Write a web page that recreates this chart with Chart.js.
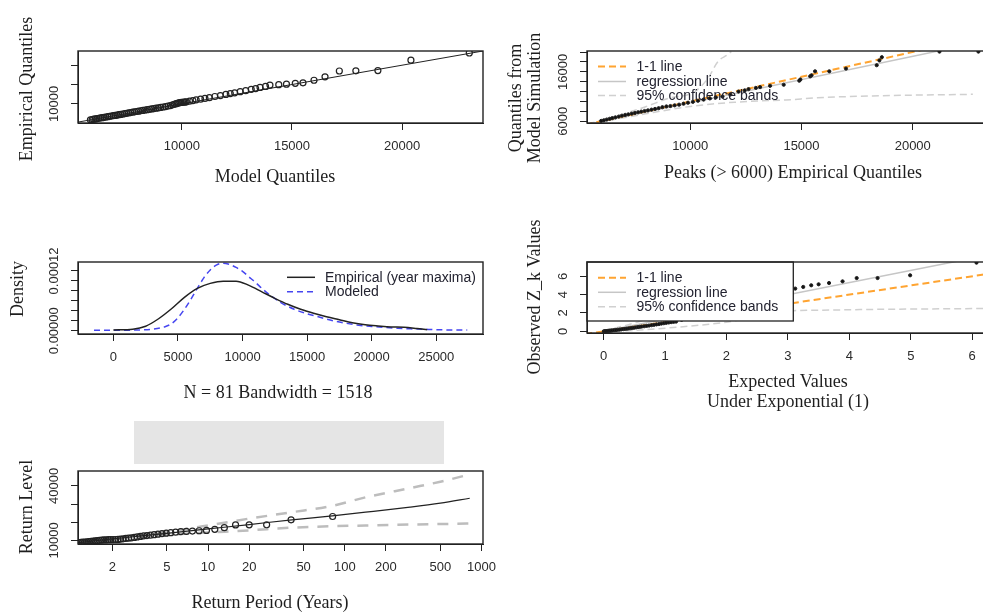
<!DOCTYPE html>
<html lang="en">
<head>
<meta charset="utf-8">
<title>Extreme value diagnostics</title>
<script src="https://cdn.jsdelivr.net/npm/chart.js@4.4.1/dist/chart.umd.min.js"></script>
<style>
  html, body { margin: 0; padding: 0; background: #fff; }
  body { position: relative; width: 983px; height: 612px; overflow: hidden; }
  canvas { position: absolute; left: 0; top: 0; }
  #cover { position: absolute; left: 134px; top: 421px; width: 310px; height: 43px; background: #e5e5e5; }
</style>
</head>
<body>
<div id="cover"></div>
<canvas id="qq" width="1000" height="612"></canvas>
<canvas id="pot" width="1000" height="612"></canvas>
<canvas id="dens" width="1000" height="612"></canvas>
<canvas id="zk" width="1000" height="612"></canvas>
<canvas id="rl" width="1000" height="612"></canvas>
<script>
// year maxima (N = 81) against fitted model quantiles
const qqModel = [5850, 5930, 6000, 6080, 6150, 6230, 6310, 6390, 6470, 6550,
  6640, 6720, 6800, 6890, 6970, 7060, 7140, 7230, 7320, 7410,
  7500, 7590, 7680, 7770, 7860, 7950, 8040, 8140, 8230, 8330,
  8430, 8530, 8630, 8730, 8830, 8940, 9040, 9150, 9260, 9370,
  9480, 9580, 9660, 9740, 9800, 9860, 9920, 9980, 10040, 10100,
  10150, 10200, 10350, 10500, 10650, 10850, 11050, 11250, 11500, 11750,
  12000, 12200, 12400, 12650, 12900, 13150, 13350, 13550, 13800, 14000,
  14400, 14750, 15150, 15500, 16000, 16500, 17150, 17900, 18900, 20400, 23050];
const empQ = [5880, 5950, 6040, 6110, 6190, 6260, 6350, 6430, 6510, 6600,
  6680, 6770, 6840, 6940, 7020, 7110, 7200, 7280, 7380, 7460,
  7560, 7650, 7750, 7840, 7930, 8030, 8120, 8220, 8310, 8410,
  8500, 8600, 8690, 8790, 8880, 8980, 9080, 9190, 9300, 9420,
  9560, 9740, 9900, 10050, 10150, 10230, 10300, 10360, 10410, 10450,
  10480, 10500, 10700, 10850, 11050, 11200, 11400, 11600, 11900, 12150,
  12450, 12650, 12850, 13150, 13400, 13750, 13950, 14250, 14500, 14850,
  14950, 15100, 15300, 15450, 16100, 17000, 18500, 18550, 18600, 21300, 23150];
const qqLineX = [5250, 23700];
const qqLineY = [5250, 23700];
const qqXTicks = [10000, 15000, 20000];
const qqYTicks = [10000, 15000, 20000];

// peaks over 6000: empirical vs simulated quantiles
const potEmp = [6000, 6120, 6250, 6380, 6500, 6640, 6790, 6930, 7080, 7220,
  7370, 7510, 7660, 7800, 7950, 8100, 8260, 8420, 8580, 8750,
  8930, 9110, 9300, 9500, 9700, 9900, 10120, 10350, 10600, 10880,
  11150, 11450, 11800, 12170, 12450, 12620, 12950, 13140, 13590, 14200,
  14900, 14950, 15390, 15450, 15610, 16250, 17000, 18380, 18500, 18610, 21200, 22950];
const potSim = [6080, 6200, 6350, 6500, 6640, 6790, 6950, 7120, 7260, 7400,
  7540, 7680, 7820, 7950, 8080, 8200, 8350, 8500, 8650, 8850,
  9000, 9080, 9220, 9360, 9550, 9750, 9930, 10150, 10380, 10620,
  10820, 11000, 11400, 12000, 12250, 12500, 12750, 12900, 13170, 13380,
  14200, 14450, 15080, 15300, 16100, 16100, 16650, 17330, 18300, 18950, 20080, 20080];
const potOneX = [5300, 20600];
const potOneY = [5300, 20600];
const potRegX = [5400, 21300];
const potRegY = [5390, 20350];
const potUpX = [5400, 6000, 7000, 8000, 9000, 10200, 10800, 11250, 11700, 11850];
const potUpY = [5450, 6200, 7500, 8950, 10600, 12000, 14700, 18100, 19500, 20100];
const potLoX = [5400, 6000, 7000, 8000, 9000, 10000, 11000, 12000, 13000, 14300, 15700, 18500, 22700];
const potLoY = [5300, 5850, 6700, 7500, 8300, 9000, 9500, 9850, 10100, 10300, 10750, 11150, 11450];
const potXTicks = [10000, 15000, 20000];
const potYTicks = [6000, 8000, 10000, 12000, 14000, 16000, 18000, 20000];

// kernel density of year maxima and the fitted model density
const densEmpX = [0, 1500, 2500, 3500, 4500, 5500, 6500, 7500, 8500, 9500,
  10500, 11500, 12500, 13500, 14500, 15500, 16500, 17500, 18500, 19500,
  20500, 21500, 22500, 23500, 24300];
const densEmp = [0.0000015, 0.000003, 0.000009, 0.000024, 0.000044, 0.000067, 0.000085, 0.000095, 0.0000995, 0.0000995,
  0.000091, 0.000078, 0.000065, 0.000053, 0.000043, 0.000035, 0.000028, 0.000022, 0.000016, 0.000012,
  0.0000095, 0.0000075, 0.000007, 0.0000045, 0.000002];
const densModX = [-1500, 0, 2000, 3000, 4000, 4500, 5000, 5500, 6000, 6500,
  7000, 7500, 8000, 8500, 9000, 9500, 10000, 10500, 11000, 11500,
  12000, 13000, 14000, 15000, 16000, 17000, 18000, 19000, 20000, 21000,
  22000, 23000, 24000, 25000, 27400];
const densMod = [0.000001, 0.000001, 0.0000015, 0.000003, 0.000008, 0.000014, 0.000026, 0.000043, 0.000063, 0.000085,
  0.000106, 0.000122, 0.000132, 0.0001355, 0.000133, 0.000127, 0.000119, 0.000108, 0.000097, 0.000085,
  0.000074, 0.000056, 0.000043, 0.000034, 0.000027, 0.00002, 0.000015, 0.000011, 0.0000085, 0.0000065,
  0.000005, 0.0000038, 0.000003, 0.000002, 0.0000012];
const densXTicks = [0, 5000, 10000, 15000, 20000, 25000];
const densYTicks = [0, 0.00002, 0.00004, 0.00006, 0.00008, 0.0001, 0.00012];

// Z_k values against exponential(1) expectations
const zkExp = [0.004, 0.02, 0.04, 0.06, 0.08, 0.1, 0.12, 0.14, 0.17, 0.2,
  0.23, 0.26, 0.29, 0.32, 0.35, 0.38, 0.41, 0.44, 0.47, 0.5,
  0.53, 0.56, 0.59, 0.62, 0.66, 0.7, 0.74, 0.78, 0.82, 0.86,
  0.9, 0.94, 0.98, 1.02, 1.06, 1.1, 1.14, 1.18, 1.27, 1.4,
  1.55, 1.7, 1.85, 2.0, 2.15, 2.3, 2.45, 2.6, 2.75, 2.88,
  3.01, 3.12, 3.25, 3.38, 3.5, 3.67, 3.89, 4.12, 4.46, 4.99, 6.07];
const zkObs = [0, 0.01, 0.02, 0.04, 0.05, 0.07, 0.08, 0.1, 0.12, 0.14,
  0.17, 0.19, 0.22, 0.24, 0.27, 0.29, 0.32, 0.35, 0.37, 0.4,
  0.43, 0.46, 0.49, 0.52, 0.55, 0.59, 0.63, 0.67, 0.71, 0.75,
  0.79, 0.84, 0.88, 0.92, 0.96, 1.0, 1.03, 1.06, 1.25, 1.55,
  1.9, 2.2, 2.6, 2.95, 3.3, 3.6, 3.9, 4.15, 4.35, 4.5,
  4.58, 4.66, 4.84, 5.02, 5.13, 5.27, 5.45, 5.81, 5.81, 6.11, 7.49];
const zkOneX = [-0.3, 6.4];
const zkOneY = [-0.3, 6.4];
const zkRegX = [0, 6.4];
const zkRegY = [0, 8.5];
const zkUpX = [0, 0.5, 1.0, 1.5, 2.0, 2.5];
const zkUpY = [0.05, 0.9, 2.0, 3.6, 5.8, 8.2];
const zkLoX = [0, 0.6, 1.2, 2.0, 2.6, 3.1, 3.5, 4.5, 5.5, 6.4];
const zkLoY = [-0.05, 0.15, 0.45, 1.0, 1.7, 2.25, 2.3, 2.4, 2.45, 2.5];
const zkXTicks = [0, 1, 2, 3, 4, 5, 6];
const zkYTicks = [0, 2, 4, 6];

// return levels: year maxima at their return periods, fitted curve and 95% bands
const rpPeriod = [0.227, 0.269, 0.302, 0.331, 0.358, 0.382, 0.406, 0.43, 0.453, 0.475,
  0.498, 0.52, 0.543, 0.566, 0.589, 0.612, 0.636, 0.66, 0.684, 0.709,
  0.734, 0.76, 0.787, 0.814, 0.842, 0.871, 0.9, 0.931, 0.962, 0.995,
  1.028, 1.063, 1.099, 1.136, 1.175, 1.215, 1.257, 1.3, 1.346, 1.393,
  1.443, 1.495, 1.549, 1.606, 1.667, 1.73, 1.797, 1.867, 1.942, 2.021,
  2.106, 2.196, 2.291, 2.394, 2.504, 2.622, 2.75, 2.888, 3.038, 3.201,
  3.38, 3.577, 3.794, 4.035, 4.304, 4.607, 4.95, 5.342, 5.793, 6.32,
  6.943, 7.689, 8.601, 9.742, 11.21, 13.16, 15.9, 20.0, 26.83, 40.5, 81.5];
const rlT = [1.12, 1.5, 2, 3, 5, 10, 20, 41, 81, 142, 300, 500, 820];
const rlFit = [8700, 9800, 10800, 12200, 13900, 16300, 18700, 21300, 23500, 25500, 28300, 30500, 33200];
const rlUpper = [8900, 10000, 11100, 12700, 14700, 18200, 22000, 25500, 29000, 33700, 38800, 42300, 46300];
const rlLower = [8500, 9600, 10400, 11700, 13000, 14300, 15500, 17000, 17800, 18200, 18700, 19000, 19300];
const rlXTicks = [2, 5, 10, 20, 50, 100, 200, 500, 1000];
const rlYTicks = [10000, 20000, 30000, 40000];

const W = 1000, H = 612;
const INK = '#222';
const LABEL = '#2a2a2a';
const SANS = '"Liberation Sans", Arial, sans-serif';
const SERIF = '"Liberation Serif", "Times New Roman", serif';
const ORANGE = '#ffa431';
const REG = '#c6c6c6';
const BAND = '#d0d0d0';
const DASH = [7, 4];

const xy = (xs, ys) => xs.map((x, i) => ({ x: x, y: ys[i] }));

function pts(xs, ys, r, filled) {
  return {
    data: xy(xs, ys), pointRadius: r, pointBorderWidth: filled ? 1 : 1.2, pointStyle: 'circle',
    pointBorderColor: INK, pointBackgroundColor: filled ? '#111' : 'rgba(0,0,0,0)', clip: 0
  };
}

function line(xs, ys, color, width, dash, smooth) {
  return {
    data: xy(xs, ys), showLine: true, pointRadius: 0, borderColor: color, borderWidth: width,
    borderDash: dash || [], cubicInterpolationMode: smooth ? 'monotone' : 'default', clip: 0
  };
}

// per-canvas extras: rotated y labels, titles and in-plot legend
const deco = {};

function drawLegend(ctx, lg) {
  ctx.save();
  if (lg.frame) {
    const [l, t, r, b] = lg.frame;
    ctx.fillStyle = '#fff';
    ctx.fillRect(l, t, r - l, b - t);
    ctx.strokeStyle = INK;
    ctx.lineWidth = 1.3;
    ctx.strokeRect(l, t, r - l, b - t);
  }
  ctx.font = '14px ' + SANS;
  ctx.textAlign = 'left';
  ctx.textBaseline = 'middle';
  lg.rows.forEach(row => {
    ctx.strokeStyle = row.color;
    ctx.lineWidth = row.width;
    ctx.setLineDash(row.dash || []);
    ctx.beginPath();
    ctx.moveTo(lg.x0, row.y);
    ctx.lineTo(lg.x1, row.y);
    ctx.stroke();
    ctx.setLineDash([]);
    ctx.fillStyle = '#232330';
    ctx.fillText(row.text, lg.tx, row.y + 0.5);
  });
  ctx.restore();
}

const rPanel = {
  id: 'rPanel',
  afterDatasetsDraw(chart) {
    const d = deco[chart.canvas.id];
    const { ctx, chartArea: a } = chart;
    if (d.legend) drawLegend(ctx, d.legend);
    ctx.save();
    ctx.strokeStyle = INK;
    ctx.lineWidth = 1.4;
    ctx.strokeRect(a.left, a.top, a.right - a.left, a.bottom - a.top);
    ctx.restore();
  },
  afterDraw(chart) {
    const d = deco[chart.canvas.id];
    const { ctx, chartArea: a } = chart;
    const ys = chart.scales.y;
    ctx.save();
    ctx.fillStyle = LABEL;
    ctx.font = '13px ' + SANS;
    ctx.textAlign = 'center';
    ctx.textBaseline = 'middle';
    d.yLabels.forEach(([v, txt]) => {
      ctx.save();
      ctx.translate(a.left - 24, ys.getPixelForValue(v));
      ctx.rotate(-Math.PI / 2);
      ctx.fillText(txt, 0, 0);
      ctx.restore();
    });
    ctx.fillStyle = '#1e1e1e';
    ctx.font = '18px ' + SERIF;
    d.titles.forEach(t => {
      ctx.save();
      ctx.translate(t.x, t.y);
      if (t.rot) ctx.rotate(-Math.PI / 2);
      ctx.fillText(t.text, 0, 0);
      ctx.restore();
    });
    ctx.restore();
  }
};

function panel(id, box, xa, ya, datasets, extra) {
  deco[id] = extra;
  new Chart(document.getElementById(id), {
    type: 'scatter',
    data: { datasets: datasets },
    options: {
      responsive: false,
      animation: false,
      events: [],
      devicePixelRatio: 1,
      layout: { padding: { left: 0, top: box.t, right: W - box.r, bottom: 0 } },
      plugins: { legend: { display: false }, tooltip: { enabled: false } },
      scales: {
        x: {
          type: xa.type || 'linear',
          min: xa.min,
          max: xa.max,
          afterBuildTicks: s => { s.ticks = xa.ticks.map(v => ({ value: v })); },
          afterFit: s => { s.height = H - box.b; s.paddingLeft = 0; s.paddingRight = 0; },
          grid: { drawOnChartArea: false, tickLength: 7, color: INK, lineWidth: 1 },
          border: { color: INK, width: 1 },
          ticks: {
            color: LABEL, font: { family: SANS, size: 13 }, padding: 9,
            maxRotation: 0, minRotation: 0, autoSkip: false, callback: v => String(v)
          }
        },
        y: {
          min: ya.min,
          max: ya.max,
          afterBuildTicks: s => { s.ticks = ya.ticks.map(v => ({ value: v })); },
          afterFit: s => { s.width = box.l; s.paddingTop = 0; s.paddingBottom = 0; },
          grid: { drawOnChartArea: false, tickLength: 7, color: INK, lineWidth: 1 },
          border: { color: INK, width: 1 },
          ticks: { display: false }
        }
      }
    },
    plugins: [rPanel]
  });
}

// top left: QQ plot of year maxima
panel('qq', { l: 78, t: 51, r: 483, b: 123 },
  { min: 5286, max: 23672, ticks: qqXTicks },
  { min: 5050, max: 23670, ticks: qqYTicks },
  [pts(qqModel, empQ, 3, false), line(qqLineX, qqLineY, INK, 1)],
  {
    yLabels: [[10000, '10000']],
    titles: [
      { text: 'Empirical Quantiles', x: 27, y: 89, rot: true },
      { text: 'Model Quantiles', x: 275, y: 177 }
    ]
  });

// top right: peaks over threshold QQ plot
panel('pot', { l: 587, t: 51, r: 990, b: 123 },
  { min: 5362, max: 23471, ticks: potXTicks },
  { min: 5650, max: 20205, ticks: potYTicks },
  [
    pts(potEmp, potSim, 1.6, true),
    line(potOneX, potOneY, ORANGE, 2, DASH),
    line(potRegX, potRegY, REG, 1.5),
    line(potUpX, potUpY, BAND, 1.5, DASH, true),
    line(potLoX, potLoY, BAND, 1.5, DASH, true)
  ],
  {
    yLabels: [[6000, '6000'], [16000, '16000']],
    titles: [
      { text: 'Quantiles from', x: 516, y: 98, rot: true },
      { text: 'Model Simulation', x: 535, y: 98, rot: true },
      { text: 'Peaks (> 6000) Empirical Quantiles', x: 793, y: 173 }
    ],
    legend: {
      x0: 598, x1: 626, tx: 636.5,
      rows: [
        { y: 66.5, text: '1-1 line', color: ORANGE, width: 2, dash: DASH },
        { y: 81.5, text: 'regression line', color: REG, width: 1.5 },
        { y: 95.5, text: '95% confidence bands', color: BAND, width: 1.5, dash: DASH }
      ]
    }
  });

// middle left: density comparison
panel('dens', { l: 78, t: 262, r: 483, b: 334 },
  { min: -2740, max: 28620, ticks: densXTicks },
  { min: -0.0000066, max: 0.0001379, ticks: densYTicks },
  [
    line(densEmpX, densEmp, INK, 1.5, null, true),
    line(densModX, densMod, '#4646f0', 1.5, [6, 4], true)
  ],
  {
    yLabels: [[0, '0.00000'], [0.00012, '0.00012']],
    titles: [
      { text: 'Density', x: 18, y: 289, rot: true },
      { text: 'N = 81 Bandwidth = 1518', x: 278, y: 393 }
    ],
    legend: {
      x0: 287, x1: 315, tx: 325,
      rows: [
        { y: 277.3, text: 'Empirical (year maxima)', color: INK, width: 1.5 },
        { y: 291.7, text: 'Modeled', color: '#4646f0', width: 1.5, dash: [6, 4] }
      ]
    }
  });

// middle right: Z_k plot
panel('zk', { l: 587, t: 262, r: 990, b: 333 },
  { min: -0.27, max: 6.29, ticks: zkXTicks },
  { min: -0.185, max: 7.56, ticks: zkYTicks },
  [
    pts(zkExp, zkObs, 1.6, true),
    line(zkOneX, zkOneY, ORANGE, 2, DASH),
    line(zkRegX, zkRegY, REG, 1.5),
    line(zkUpX, zkUpY, BAND, 1.5, DASH, true),
    line(zkLoX, zkLoY, BAND, 1.5, DASH, true)
  ],
  {
    yLabels: [[0, '0'], [2, '2'], [4, '4'], [6, '6']],
    titles: [
      { text: 'Observed Z_k Values', x: 535, y: 297, rot: true },
      { text: 'Expected Values', x: 788, y: 382 },
      { text: 'Under Exponential (1)', x: 788, y: 402 }
    ],
    legend: {
      frame: [587, 262, 793.3, 321],
      x0: 598, x1: 626, tx: 636.5,
      rows: [
        { y: 277.7, text: '1-1 line', color: ORANGE, width: 2, dash: DASH },
        { y: 292.3, text: 'regression line', color: REG, width: 1.5 },
        { y: 306.7, text: '95% confidence bands', color: BAND, width: 1.5, dash: DASH }
      ]
    }
  });

// bottom left: return level plot
panel('rl', { l: 78, t: 471, r: 483, b: 544 },
  { type: 'logarithmic', min: 1.12, max: 1025, ticks: rlXTicks },
  { min: 8000, max: 48200, ticks: rlYTicks },
  [
    pts(rpPeriod, empQ, 3, false),
    line(rlT, rlFit, INK, 1.2, null, true),
    line(rlT, rlUpper, '#bdbdbd', 2.5, [11, 9], true),
    line(rlT, rlLower, '#bdbdbd', 2.5, [11, 9], true)
  ],
  {
    yLabels: [[10000, '10000'], [40000, '40000']],
    titles: [
      { text: 'Return Level', x: 27, y: 507, rot: true },
      { text: 'Return Period (Years)', x: 270, y: 603 }
    ]
  });
</script>
</body>
</html>
